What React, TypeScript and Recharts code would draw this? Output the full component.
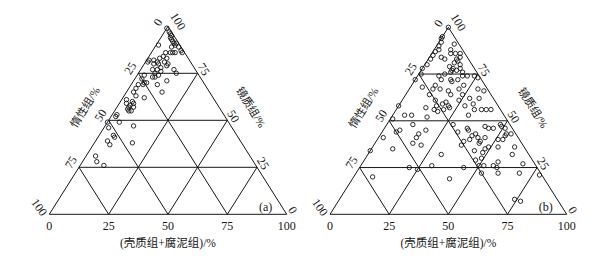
import React from 'react';
import { ScatterChart, Scatter, XAxis, YAxis, ReferenceLine, ReferenceDot } from 'recharts';

// (a) maceral composition, %
const vitriniteA = [99, 97, 96, 95, 94, 93, 92, 91, 90, 91, 89, 89, 87, 86, 86, 86, 86, 86, 90, 84,
  83, 81, 83, 81, 82, 82, 81, 80, 80, 78, 79, 80, 77, 75, 77, 75, 73, 73, 74, 76,
  74, 72, 70, 70, 69, 77, 71, 69, 65, 69, 67, 65, 63, 62, 60, 58, 61, 59, 57, 56,
  55, 55, 57, 59, 53, 52, 49, 49, 46, 42, 41, 47, 38, 39, 37, 31, 28, 26];
const inertiniteA = [1, 1, 1, 1, 2, 2, 2, 2, 2, 1, 4, 1, 1, 1, 4, 5, 6, 8, 9, 10,
  9, 11, 12, 14, 15, 17, 18, 16, 14, 14, 11, 10, 9, 9, 16, 18, 20, 19, 17, 15,
  23, 25, 25, 24, 26, 18, 15, 20, 20, 28, 30, 32, 32, 29, 35, 37, 37, 38, 38, 39,
  39, 38, 36, 35, 45, 46, 46, 51, 52, 52, 52, 41, 46, 56, 56, 65, 66, 64];
const liptiniteA = [0, 2, 3, 4, 4, 5, 6, 7, 8, 8, 7, 10, 12, 13, 10, 9, 8, 6, 1, 6,
  8, 8, 5, 5, 3, 1, 1, 4, 6, 8, 10, 10, 14, 16, 7, 7, 7, 8, 9, 9,
  3, 3, 5, 6, 5, 5, 14, 11, 15, 3, 3, 3, 5, 9, 5, 5, 2, 3, 5, 5,
  6, 7, 7, 6, 2, 2, 5, 0, 2, 6, 7, 12, 16, 5, 7, 4, 6, 10];

// (b)
const vitriniteB = [100, 95, 94, 92, 90, 87, 85, 83, 80, 78, 75, 72, 58, 51, 34, 91, 88, 86, 88, 84,
  83, 86, 86, 84, 83, 82, 80, 81, 79, 77, 78, 77, 78, 76, 76, 75, 74, 72, 72, 71,
  72, 74, 74, 74, 73, 68, 67, 64, 69, 67, 66, 64, 67, 69, 64, 61, 58, 62, 67, 66,
  62, 59, 53, 56, 56, 56, 56, 61, 58, 59, 60, 58, 57, 56, 55, 56, 57, 52, 53, 53,
  48, 45, 44, 41, 35, 43, 41, 45, 38, 37, 32, 48, 44, 46, 45, 39, 37, 40, 42, 43,
  41, 39, 41, 47, 46, 46, 48, 47, 46, 43, 42, 40, 40, 36, 43, 36, 32, 35, 33, 30,
  29, 34, 26, 25, 26, 26, 28, 27, 26, 25, 24, 20, 19, 22, 25, 22, 22, 21, 8, 7,
  38, 36];
const inertiniteB = [0, 5, 6, 7, 9, 12, 14, 16, 19, 22, 24, 28, 42, 48, 66, 2, 5, 6, 10, 11,
  10, 4, 2, 3, 5, 5, 5, 7, 10, 10, 9, 8, 6, 6, 11, 14, 17, 17, 13, 13,
  10, 7, 5, 2, 1, 27, 23, 26, 21, 20, 17, 17, 12, 9, 12, 15, 14, 10, 4, 2,
  6, 10, 15, 11, 8, 6, 4, 25, 26, 23, 21, 21, 21, 24, 27, 28, 31, 33, 42, 39,
  41, 48, 50, 57, 56, 41, 43, 37, 46, 43, 37, 24, 24, 19, 19, 24, 26, 21, 19, 17,
  17, 17, 14, 11, 10, 8, 4, 4, 3, 4, 5, 9, 7, 11, 2, 4, 7, 17, 19, 21,
  24, 22, 24, 31, 22, 18, 15, 5, 44, 54, 51, 72, 40, 25, 17, 18, 9, 1, 18, 16,
  18, 15];
const liptiniteB = [0, 0, 0, 1, 1, 1, 1, 1, 1, 0, 1, 0, 0, 1, 0, 7, 7, 8, 2, 5,
  7, 10, 12, 13, 12, 13, 15, 12, 11, 13, 13, 15, 16, 18, 13, 11, 9, 11, 15, 16,
  18, 19, 21, 24, 26, 5, 10, 10, 10, 13, 17, 19, 21, 22, 24, 24, 28, 28, 29, 32,
  32, 31, 32, 33, 36, 38, 40, 14, 16, 18, 19, 21, 22, 20, 18, 16, 12, 15, 5, 8,
  11, 7, 6, 2, 9, 16, 16, 18, 16, 20, 31, 28, 32, 35, 36, 37, 37, 39, 39, 40,
  42, 44, 45, 42, 44, 46, 48, 49, 51, 53, 53, 51, 53, 53, 55, 60, 61, 48, 48, 49,
  47, 44, 50, 44, 52, 56, 57, 68, 30, 21, 25, 8, 41, 53, 58, 60, 69, 78, 74, 77,
  44, 49];

const gridLevels = [25, 50, 75];
const sideTicks = [0, 25, 50, 75, 100];

const leftTitle = '惰性组/%';
const rightTitle = '镜质组/%';
const bottomTitle = '(壳质组+腐泥组)/%';

const serif = '"Liberation Serif", "DejaVu Serif", serif';
const cjk = '"Liberation Serif", "Noto Sans CJK SC", serif';
const INK = '#161616';

type Lbl = { x: number; y: number; dx: number; dy: number; text: string; rot: number; size: number; font: string };

const Ring = (props: any) => (
  <circle cx={props.cx} cy={props.cy} r={2.2} fill="none" stroke={INK} strokeWidth={0.9} />
);

const buildLabels = (tag: string, titleDx: number): Lbl[] => {
  const out: Lbl[] = [];
  sideTicks.forEach((t) => {
    // inertinite along the left edge
    const lx = (100 - t) / 2, ly = 100 - t;
    if (t === 0) out.push({ x: lx, y: ly, dx: -10, dy: -4, text: '0', rot: -58, size: 12, font: serif });
    else if (t === 100) out.push({ x: lx, y: ly, dx: -10, dy: -7, text: '100', rot: 55, size: 12, font: serif });
    else out.push({ x: lx, y: ly, dx: -8, dy: -5, text: String(t), rot: -58, size: 12, font: serif });
    // vitrinite along the right edge
    const rx = 100 - t / 2, ry = t;
    if (t === 100) out.push({ x: rx, y: ry, dx: 10, dy: -5, text: '100', rot: 58, size: 12, font: serif });
    else out.push({ x: rx, y: ry, dx: 6, dy: -4, text: String(t), rot: 58, size: 12, font: serif });
    // bottom axis
    out.push({ x: t, y: 0, dx: 0, dy: 12, text: String(t), rot: 0, size: 12, font: serif });
  });
  out.push({ x: 28.5, y: 57, dx: -titleDx, dy: 0, text: leftTitle, rot: -58, size: 11, font: cjk });
  out.push({ x: 71.5, y: 57, dx: titleDx, dy: 0, text: rightTitle, rot: 58, size: 11, font: cjk });
  out.push({ x: 50, y: 0, dx: 0, dy: 29, text: bottomTitle, rot: 0, size: 11.5, font: cjk });
  out.push({ x: 100, y: 0, dx: -21, dy: -7, text: tag, rot: 0, size: 12, font: serif });
  return out;
};

const buildSegments = () => {
  const segs: number[][][] = [
    [[0, 0], [100, 0]],
    [[0, 0], [50, 100]],
    [[100, 0], [50, 100]],
  ];
  gridLevels.forEach((k) => {
    segs.push([[k / 2, k], [100 - k / 2, k]]);
    segs.push([[k, 0], [k + (100 - k) / 2, 100 - k]]);
    segs.push([[100 - k, 0], [(100 - k) / 2, 100 - k]]);
  });
  return segs;
};

interface TernaryProps {
  vit: number[];
  lip: number[];
  tag: string;
  width: number;
  margin: { top: number; right: number; bottom: number; left: number };
  titleDx: number;
}

const Ternary = ({ vit, lip, tag, width, margin, titleDx }: TernaryProps) => {
  const data = vit.map((v, i) => ({ x: lip[i] + v / 2, y: v }));
  const segs = buildSegments();
  const labels = buildLabels(tag, titleDx);

  return (
    <ScatterChart width={width} height={258} margin={margin}>
      <XAxis type="number" dataKey="x" domain={[0, 100]} hide />
      <YAxis type="number" dataKey="y" domain={[0, 100]} hide />
      {segs.map((s, i) => (
        <ReferenceLine
          key={`seg-${i}`}
          segment={[{ x: s[0][0], y: s[0][1] }, { x: s[1][0], y: s[1][1] }]}
          stroke={INK}
          strokeWidth={1}
          ifOverflow="visible"
        />
      ))}
      <Scatter data={data} isAnimationActive={false} shape={Ring} />
      {labels.map((l, i) => (
        <ReferenceDot
          key={`lbl-${i}`}
          x={l.x}
          y={l.y}
          r={0}
          ifOverflow="visible"
          shape={(p: any) => {
            const tx = p.cx + l.dx;
            const ty = p.cy + l.dy;
            return (
              <text
                x={tx}
                y={ty}
                textAnchor="middle"
                dominantBaseline="central"
                fontFamily={l.font}
                fontSize={l.size}
                fill={INK}
                transform={l.rot ? `rotate(${l.rot} ${tx} ${ty})` : undefined}
              >
                {l.text}
              </text>
            );
          }}
        />
      ))}
    </ScatterChart>
  );
};

export default function App() {
  return (
    <div style={{ position: 'absolute', left: 0, top: 0, width: 611, height: 258, background: '#fff' }}>
      <div style={{ position: 'absolute', left: 0, top: 0 }}>
        <Ternary vit={vitriniteA} lip={liptiniteA} tag="(a)" width={305}
          margin={{ top: 26.3, right: 18.3, bottom: 43.7, left: 49.3 }} titleDx={32} />
      </div>
      <div style={{ position: 'absolute', left: 305, top: 0 }}>
        <Ternary vit={vitriniteB} lip={liptiniteB} tag="(b)" width={306}
          margin={{ top: 27.3, right: 44.3, bottom: 43.7, left: 25 }} titleDx={34} />
      </div>
    </div>
  );
}
